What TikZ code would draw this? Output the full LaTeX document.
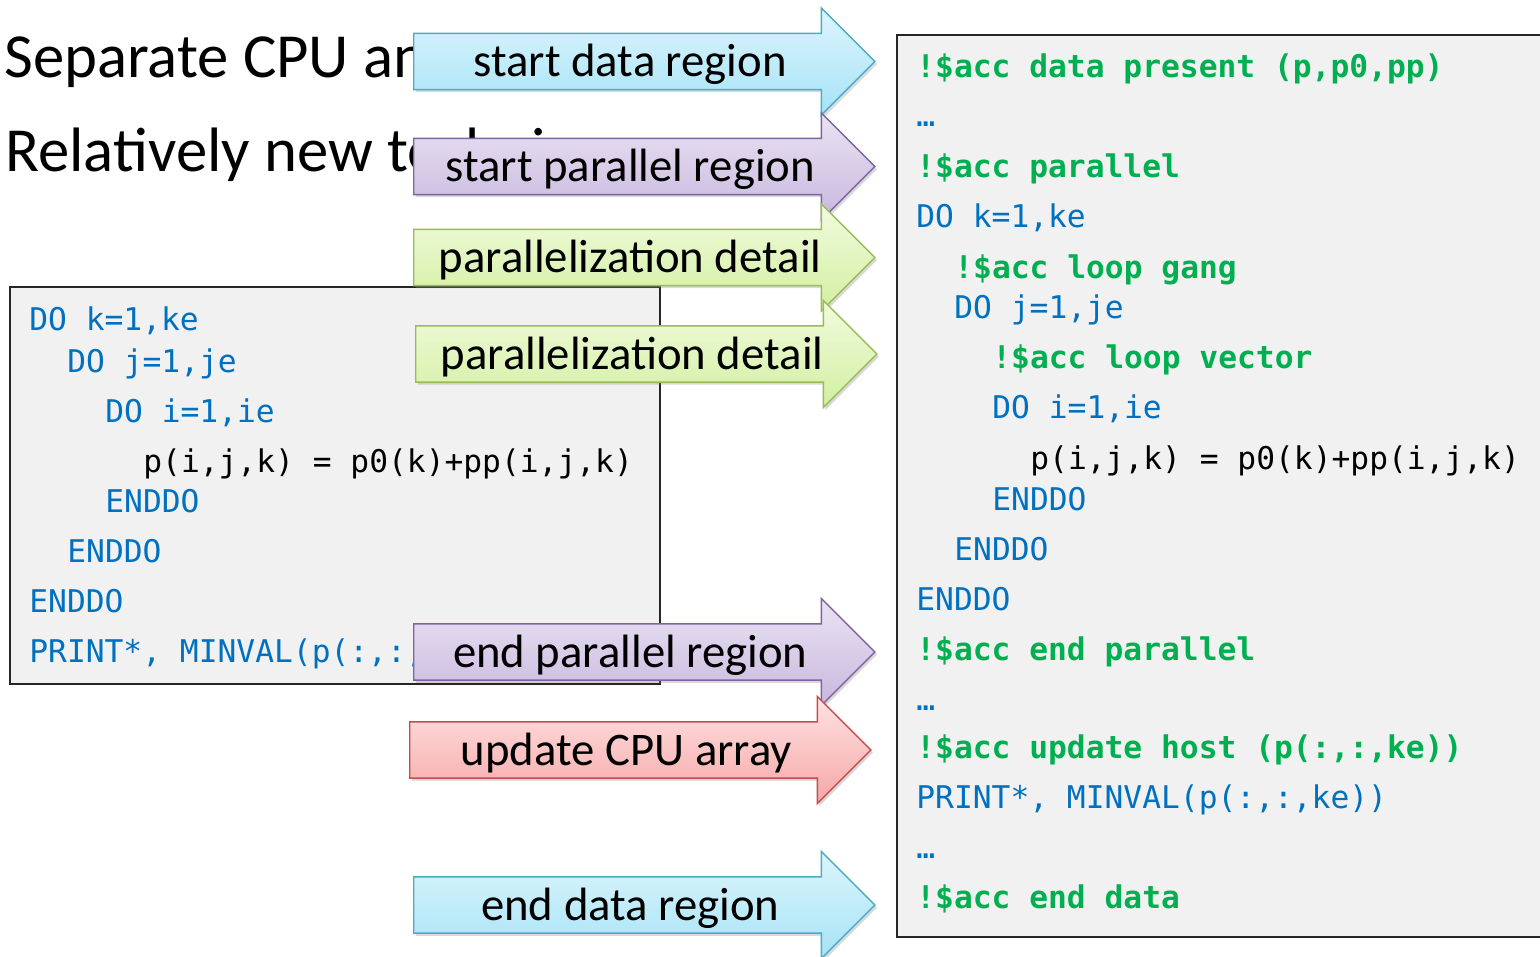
\documentclass[tikz,border=0pt]{standalone}
\usepackage{fontspec}
\setmainfont{Carlito}
\setmonofont{DejaVu Sans Mono}
\usepackage{xcolor}
\usetikzlibrary{shapes.arrows, shadows, positioning}

\definecolor{codeblue}{HTML}{0070C0}
\definecolor{accgreen}{HTML}{00B050}
\definecolor{boxgray}{HTML}{F1F1F1}
\definecolor{datatop}{HTML}{DDF5FD}
\definecolor{databot}{HTML}{A6E3F6}
\definecolor{dataline}{HTML}{4BACC6}
\definecolor{partop}{HTML}{EAE3F3}
\definecolor{parbot}{HTML}{C8B8DE}
\definecolor{parline}{HTML}{8064A2}
\definecolor{dettop}{HTML}{F2FBDF}
\definecolor{detbot}{HTML}{D2EFA0}
\definecolor{detline}{HTML}{9BBB59}
\definecolor{updtop}{HTML}{FFE3E3}
\definecolor{updbot}{HTML}{F6A6A6}
\definecolor{updline}{HTML}{C0504D}

\newcommand{\codefont}{\fontsize{17.8pt}{20pt}\selectfont\ttfamily}
\newcommand{\calloutfont}{\fontsize{26.6pt}{30pt}\selectfont}
\newcommand{\titlefont}{\fontsize{35.7pt}{40pt}\selectfont}

\begin{document}
\begin{tikzpicture}[x=0.02cm, y=-0.02cm,
  codebox/.style={draw=black!85, line width=1.1pt, fill=boxgray},
  code/.style={anchor=base west, inner sep=0pt, font=\codefont},
  loopline/.style={code, text=codeblue},
  accline/.style={code, text=accgreen, font=\codefont\bfseries},
  callout/.style={single arrow, anchor=tail, minimum height=262.5pt,
    single arrow head extend=14.5pt, text height=22.3pt, text depth=4.7pt,
    inner ysep=2.1pt, inner xsep=0pt, line width=0.8pt, font=\calloutfont,
    drop shadow={shadow xshift=1.2pt, shadow yshift=-1.5pt, opacity=0.3}},
  datacall/.style={callout, draw=dataline, top color=datatop, bottom color=databot},
  parcall/.style={callout, draw=parline, top color=partop, bottom color=parbot},
  detcall/.style={callout, draw=detline, top color=dettop, bottom color=detbot},
  updcall/.style={callout, draw=updline, top color=updtop, bottom color=updbot}]
  \useasboundingbox (0,0) rectangle (1540,956);

  % slide text behind the call-outs
  \node[anchor=base west, inner sep=0pt, font=\titlefont] (title1) at (4,78) {Separate CPU and};
  \node[anchor=base west, inner sep=0pt, font=\titlefont] (title2) at (5,172) {Relatively new techniques};

  % plain loop nest
  \draw[codebox] (10,287) rectangle (660,684);
  \node[loopline] (s1) at (29,330) {DO k=1,ke};
  \node[loopline] (s2) at (67,372) {DO j=1,je};
  \node[loopline] (s3) at (105,422) {DO i=1,ie};
  \node[code] (s4) at (143,472) {p(i,j,k) = p0(k)+pp(i,j,k)};
  \node[loopline] (s5) at (105,512) {ENDDO};
  \node[loopline] (s6) at (67,562) {ENDDO};
  \node[loopline] (s7) at (29,612) {ENDDO};
  \node[loopline] (s8) at (29,662) {PRINT*, MINVAL(p(:,:,ke))};

  % same nest with OpenACC directives
  \draw[codebox] (897,35) rectangle (1552,937);
  \node[accline] (a1) at (916,78) {!\$acc data present (p,p0,pp)};
  \node[loopline] (a2) at (916,127) {…};
  \node[accline] (a3) at (916,177) {!\$acc parallel};
  \node[loopline] (a4) at (916,227) {DO k=1,ke};
  \node[accline] (a5) at (954,278) {!\$acc loop gang};
  \node[loopline] (a6) at (954,318) {DO j=1,je};
  \node[accline] (a7) at (992,368) {!\$acc loop vector};
  \node[loopline] (a8) at (992,418) {DO i=1,ie};
  \node[code] (a9) at (1030,469) {p(i,j,k) = p0(k)+pp(i,j,k)};
  \node[loopline] (a10) at (992,510) {ENDDO};
  \node[loopline] (a11) at (954,560) {ENDDO};
  \node[loopline] (a12) at (916,610) {ENDDO};
  \node[accline] (a13) at (916,660) {!\$acc end parallel};
  \node[loopline] (a14) at (916,710) {…};
  \node[accline] (a15) at (916,758) {!\$acc update host (p(:,:,ke))};
  \node[loopline] (a16) at (916,808) {PRINT*, MINVAL(p(:,:,ke))};
  \node[loopline] (a17) at (916,858) {…};
  \node[accline] (a18) at (916,908) {!\$acc end data};

  % call-outs
  \node[datacall] (startdata) at (413,61.5) {start data region};
  \node[parcall] (startpar) at (413,166.5) {start parallel region};
  \node[detcall] (detailgang) at (413,257.5) {parallelization detail};
  \node[detcall] (detailvec) at (415,354) {parallelization detail};
  \node[parcall] (endpar) at (413,652) {end parallel region};
  \node[updcall] (update) at (409,750) {update CPU array};
  \node[datacall] (enddata) at (413,905) {end data region};
\end{tikzpicture}
\end{document}
